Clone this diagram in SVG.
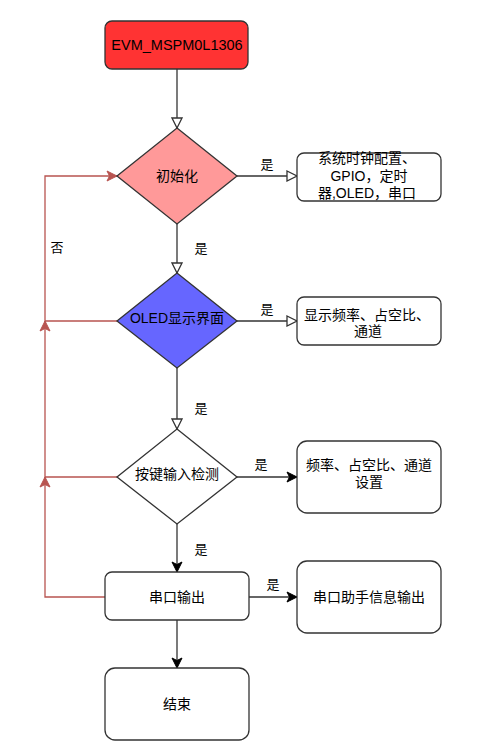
<svg xmlns="http://www.w3.org/2000/svg" width="501" height="753" viewBox="0 0 501 753">
<style>
  .shape { stroke: #333; stroke-width: 1.3; }
  .box { fill: #fff; stroke: #333; stroke-width: 1.3; }
  .t { font-family: "Liberation Sans", "Noto Sans CJK SC", sans-serif; font-size: 14px; fill: #000; text-anchor: middle; }
  .lbl { font-family: "Liberation Sans", "Noto Sans CJK SC", sans-serif; font-size: 13px; fill: #000; text-anchor: middle; }
  .edge { fill: none; stroke: #333; stroke-width: 1.3; }
  .redge { fill: none; stroke: #b85450; stroke-width: 1.3; }
</style>
<defs>
  <marker id="open" markerUnits="userSpaceOnUse" markerWidth="12" markerHeight="12" viewBox="0 0 12 12" refX="11" refY="6" orient="auto">
    <path d="M1,1 L11,6 L1,11 Z" fill="#fff" stroke="#333" stroke-width="1.3"/>
  </marker>
  <marker id="classic" markerUnits="userSpaceOnUse" markerWidth="12" markerHeight="12" viewBox="0 0 12 12" refX="11" refY="6" orient="auto">
    <path d="M1,1 L11,6 L1,11 L3.5,6 Z" fill="#000" stroke="#000" stroke-width="1"/>
  </marker>
  <marker id="red" markerUnits="userSpaceOnUse" markerWidth="12" markerHeight="12" viewBox="0 0 12 12" refX="11" refY="6" orient="auto">
    <path d="M1,1 L11,6 L1,11 L3.5,6 Z" fill="#b85450" stroke="#b85450" stroke-width="1"/>
  </marker>
</defs>

<g id="connectors">
  <path class="edge" d="M177,69 V128" marker-end="url(#open)"/>
  <path class="edge" d="M177,224 V273" marker-end="url(#open)"/>
  <path class="edge" d="M177,368 V429" marker-end="url(#open)"/>
  <path class="edge" d="M177,524 V572" marker-end="url(#classic)"/>
  <path class="edge" d="M177,620 V668" marker-end="url(#classic)"/>
  <path class="edge" d="M237,176 H297" marker-end="url(#open)"/>
  <path class="edge" d="M237,321 H297" marker-end="url(#open)"/>
  <path class="edge" d="M237,477 H297" marker-end="url(#classic)"/>
  <path class="edge" d="M249,597 H297" marker-end="url(#classic)"/>
  <path class="redge" d="M105,597 H45 V477" marker-end="url(#red)"/>
  <path class="redge" d="M117,477 H45 V321" marker-end="url(#red)"/>
  <path class="redge" d="M117,321 H45 V176 H117" marker-end="url(#red)"/>
  <text class="lbl" x="201" y="253">是</text>
  <text class="lbl" x="201" y="413">是</text>
  <text class="lbl" x="201" y="554">是</text>
  <text class="lbl" x="267" y="169">是</text>
  <text class="lbl" x="267" y="314">是</text>
  <text class="lbl" x="261" y="469">是</text>
  <text class="lbl" x="273" y="589">是</text>
  <text class="lbl" x="57" y="252">否</text>
</g>

<g id="start">
  <rect x="105" y="21" width="143" height="48" rx="7" fill="#ff3333" class="shape"/>
  <text class="t" x="177" y="50" style="font-size:14.5px">EVM_MSPM0L1306</text>
</g>

<g id="init">
  <path d="M177,128 L237,176 L177,224 L117,176 Z" fill="#ff9999" class="shape"/>
  <text class="t" x="177" y="181">初始化</text>
</g>

<g id="oled">
  <path d="M177,273 L237,321 L177,368 L117,321 Z" fill="#6666ff" class="shape"/>
  <text class="t" x="177" y="323">OLED显示界面</text>
</g>

<g id="key">
  <path d="M177,429 L237,477 L177,524 L117,477 Z" fill="#fff" class="shape"/>
  <text class="t" x="177" y="479">按键输入检测</text>
</g>

<g id="uart">
  <rect x="105" y="572" width="144" height="48" rx="7" class="box"/>
  <text class="t" x="177" y="602">串口输出</text>
</g>

<g id="end">
  <rect x="105" y="668" width="144" height="72" rx="10" class="box"/>
  <text class="t" x="177" y="709">结束</text>
</g>

<g id="init-detail">
  <rect x="297" y="153" width="144" height="48" rx="7" class="box"/>
  <text class="t" x="367" y="163">系统时钟配置、</text>
  <text class="t" x="369" y="181">GPIO，定时</text>
  <text class="t" x="367" y="198">器,OLED，串口</text>
</g>

<g id="oled-detail">
  <rect x="297" y="297" width="144" height="48" rx="7" class="box"/>
  <text class="t" x="367" y="320">显示频率、占空比、</text>
  <text class="t" x="368" y="336">通道</text>
</g>

<g id="key-detail">
  <rect x="297" y="441" width="144" height="72" rx="10" class="box"/>
  <text class="t" x="369" y="470">频率、占空比、通道</text>
  <text class="t" x="369" y="487">设置</text>
</g>

<g id="uart-detail">
  <rect x="297" y="561" width="144" height="72" rx="10" class="box"/>
  <text class="t" x="369" y="602">串口助手信息输出</text>
</g>
</svg>
